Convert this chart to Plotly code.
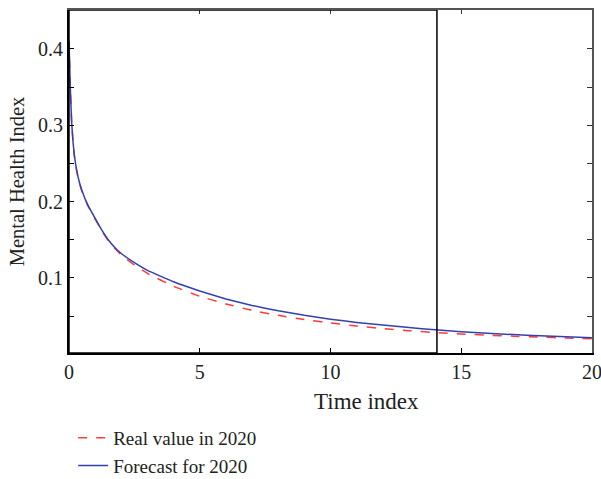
import plotly.graph_objects as go

time_index = [0, 0.05, 0.1, 0.15, 0.2, 0.3, 0.4, 0.5, 0.7, 1, 1.25, 1.5, 1.75, 2, 2.5, 3,
              4, 5, 6, 7, 8, 9, 10, 11, 12, 13, 14, 15, 16, 17, 18, 19, 20]
real_2020 = [0.41, 0.35, 0.305, 0.28, 0.261, 0.239, 0.224, 0.213, 0.196, 0.177, 0.162,
             0.149, 0.139, 0.130, 0.117, 0.106, 0.089, 0.076, 0.066, 0.0575, 0.051,
             0.0455, 0.041, 0.037, 0.0337, 0.031, 0.0285, 0.0267, 0.025, 0.0237,
             0.0225, 0.0214, 0.0205]
forecast_2020 = [0.41, 0.35, 0.305, 0.28, 0.262, 0.24, 0.225, 0.214, 0.197, 0.178, 0.163,
                 0.150, 0.140, 0.132, 0.120, 0.110, 0.095, 0.083, 0.0725, 0.064, 0.057,
                 0.051, 0.046, 0.0418, 0.0383, 0.0352, 0.032, 0.0295, 0.0275, 0.0258,
                 0.0243, 0.023, 0.0218]

x_ticks = [0, 5, 10, 15, 20]
y_ticks = [0.05, 0.1, 0.15, 0.2, 0.25, 0.3, 0.35, 0.4]
y_labels = ["", "0.1", "", "0.2", "", "0.3", "", "0.4"]
box_right = 14.07

FONT = "Liberation Serif"
xr = [0, 20]
yr = [0.0017, 0.451]

fig = go.Figure()
fig.add_trace(go.Scatter(x=time_index, y=real_2020, mode="lines", name="Real value in 2020",
                         line=dict(color="#ff3a3a", width=1.5, dash="dash", shape="spline",
                                   smoothing=0.3)))
fig.add_trace(go.Scatter(x=time_index, y=forecast_2020, mode="lines", name="Forecast for 2020",
                         line=dict(color="#3440b0", width=1.5, shape="spline", smoothing=0.3)))
# invisible trace for secondary axes
fig.add_trace(go.Scatter(x=[None], y=[None], xaxis="x2", yaxis="y2", showlegend=False))

fig.add_shape(type="rect", x0=0, x1=box_right, y0=yr[0], y1=yr[1], xref="x", yref="y",
              line=dict(color="black", width=1.5))

fig.add_annotation(text="Time index", xref="paper", yref="paper", x=0.568, y=-0.142,
                   xanchor="center", yanchor="middle", showarrow=False,
                   font=dict(family=FONT, size=23, color="#222"))

fig.update_layout(
    width=601, height=479,
    margin=dict(l=69, r=9, t=10, b=126, autoexpand=False),
    paper_bgcolor="white", plot_bgcolor="white",
    font=dict(family=FONT, size=20, color="#222"),
    xaxis=dict(range=xr, tickvals=x_ticks, ticks="inside", ticklen=5, tickcolor="black",
               showline=True, linecolor="black", linewidth=2, showgrid=False, zeroline=False,
               automargin=False, tickfont=dict(size=20), ticklabeloverflow="allow"),
    yaxis=dict(range=yr, tickvals=y_ticks, ticktext=y_labels, ticks="inside", ticklen=5,
               tickcolor="black", showline=True, linecolor="black", linewidth=2,
               showgrid=False, zeroline=False, automargin=False, tickfont=dict(size=20),
               title=dict(text="Mental Health Index", font=dict(size=20.5), standoff=8)),
    xaxis2=dict(range=xr, overlaying="x", side="top", tickvals=x_ticks, ticks="inside",
                ticklen=4, tickcolor="#333", showticklabels=False, showline=True,
                linecolor="#555", linewidth=1.5, showgrid=False, zeroline=False,
                automargin=False),
    yaxis2=dict(range=yr, overlaying="y", side="right", tickvals=y_ticks, ticks="inside",
                ticklen=5, tickcolor="#333", showticklabels=False, showline=True,
                linecolor="#555", linewidth=1.5, showgrid=False, zeroline=False,
                automargin=False),
    legend=dict(x=0.008, y=-0.192, xanchor="left", yanchor="top", font=dict(size=19),
                bgcolor="rgba(0,0,0,0)", tracegroupgap=0, itemwidth=30),
    showlegend=True,
)

fig.write_html("out.html")
